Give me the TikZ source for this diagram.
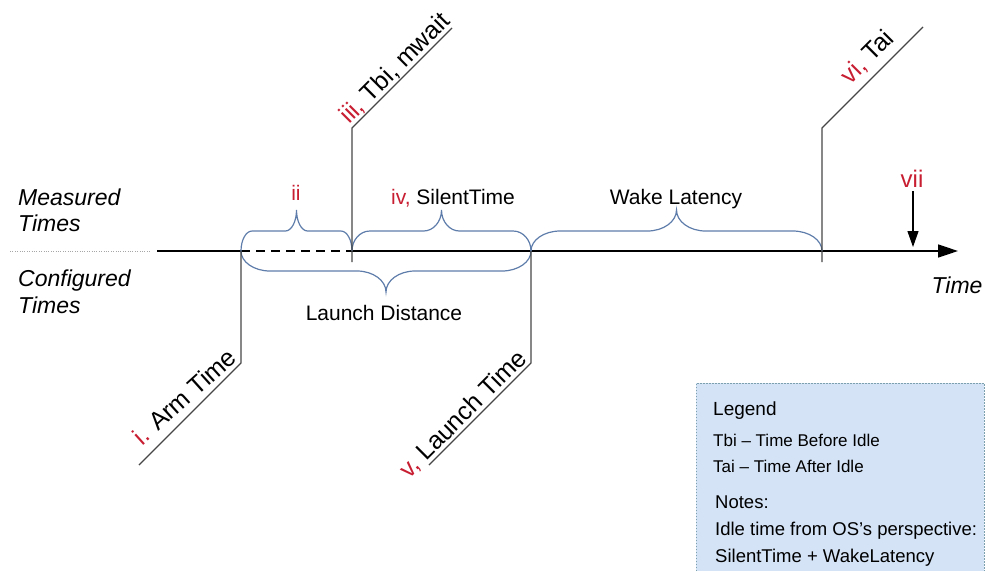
\documentclass[tikz,border=0pt]{standalone}
\usepackage{fontspec}
\setmainfont{Liberation Sans}
\usetikzlibrary{arrows.meta}
\definecolor{redlbl}{RGB}{200,30,50}
\definecolor{bracecol}{RGB}{95,125,170}
\definecolor{tickcol}{RGB}{70,70,70}
\definecolor{legfill}{RGB}{212,227,246}
\definecolor{legborder}{RGB}{125,160,175}
\newcommand\tlbrace[3]{%
  \pgfmathsetmacro\brXa{#1}%
  \pgfmathsetmacro\brXb{#2}%
  \pgfmathsetmacro\brW{0.1*(#2-#1)}%
  \pgfmathsetmacro\brXm{(#1+#2)/2}%
  \pgfmathsetmacro\brYh{251-20*#3}%
  \pgfmathsetmacro\brYt{251-41*#3}%
  \pgfmathsetmacro\brYe{251+0.552*(\brYh-251)}%
  \pgfmathsetmacro\brYc{\brYt+0.552*(\brYh-\brYt)}%
  \draw[bracestyle] (\brXa,251) .. controls (\brXa,\brYe) and ({\brXa+0.448*\brW},\brYh) .. ({\brXa+\brW},\brYh)
    -- ({\brXm-\brW},\brYh) .. controls ({\brXm-0.448*\brW},\brYh) and (\brXm,\brYc) .. (\brXm,\brYt)
    .. controls (\brXm,\brYc) and ({\brXm+0.448*\brW},\brYh) .. ({\brXm+\brW},\brYh)
    -- ({\brXb-\brW},\brYh) .. controls ({\brXb-0.448*\brW},\brYh) and (\brXb,\brYe) .. (\brXb,251);%
}
\begin{document}
\begin{tikzpicture}[x=1pt,y=-1pt,
  lbl/.style={font=\fontsize{21}{25}\selectfont, inner sep=0pt, anchor=base},
  side/.style={font=\fontsize{23}{28}\selectfont\itshape, inner sep=0pt, anchor=base west},
  diagtext/.style={font=\fontsize{25}{30}\selectfont, text depth=0pt, inner xsep=0pt, inner ysep=4pt},
  diag/.style={diagtext, sloped},
  legtitle/.style={font=\fontsize{19}{23}\selectfont, inner sep=0pt, anchor=base west},
  legsmall/.style={font=\fontsize{17}{21}\selectfont, inner sep=0pt, anchor=base west},
  legnote/.style={font=\fontsize{18.5}{22}\selectfont, inner sep=0pt, anchor=base west},
  tickline/.style={draw=tickcol, line width=1.1pt},
  axisline/.style={draw=black, line width=1.6pt},
  bracestyle/.style={draw=bracecol, line width=1.2pt},
  dotline/.style={draw=gray!70, line width=0.9pt, dash pattern=on 1pt off 1.4pt}
]
\useasboundingbox (0,0) rectangle (986,571);

% legend box
\coordinate (legTL) at (696,383);
\coordinate (legBR) at (984,571);
\fill[legfill] (legTL) rectangle (legBR);
\draw[legborder, line width=1pt, dash pattern=on 1.5pt off 1.5pt] (legTL|-legBR) -- (legTL) -- (legBR|-legTL) -- (legBR);

% axis
\coordinate (dot0) at (10,251);
\coordinate (dot1) at (150,251);
\coordinate (ax0) at (157,251);
\coordinate (axEnd) at (958,251);
\coordinate (tA) at (241,251);
\coordinate (tB) at (352,251);
\coordinate (tC) at (531,251);
\coordinate (tD) at (822,251);
\draw[dotline] (dot0) -- (dot1);
\draw[axisline] (ax0) -- (tA);
\draw[axisline, dash pattern=on 9pt off 6pt] (tA) -- (tB);
\draw[axisline, -{Triangle[length=20pt,width=13pt]}] (tB) -- (axEnd);

% braces
\tlbrace{241}{352}{1}
\tlbrace{352}{531}{1}
\tlbrace{531}{822}{1}
\tlbrace{241}{531}{-1}

% tick lines
\coordinate (cA) at (241,363);
\coordinate (eA) at (139,465);
\coordinate (bB) at (352,262);
\coordinate (cB) at (352,128);
\coordinate (eB) at (452,28);
\coordinate (cC) at (531,363);
\coordinate (eC) at (429,465);
\coordinate (bD) at (822,262);
\coordinate (cD) at (822,128);
\coordinate (eD) at (923,27);
\draw[tickline] (tA) -- (cA) -- (eA);
\draw[tickline] (bB) -- (cB) -- (eB);
\draw[tickline] (tC) -- (cC) -- (eC);
\draw[tickline] (bD) -- (cD) -- (eD);

\node[diagtext, rotate=42, anchor=south east] (lA) at (cA) {\textcolor{redlbl}{i.} Arm Time};
\path (cB) -- node[diag, pos=0, anchor=south west] (lB) {\textcolor{redlbl}{iii,} Tbi, mwait} (eB);
\path (eC) -- node[diag, pos=1, anchor=south east] (lC) {\textcolor{redlbl}{v,} Launch Time} (cC);
\path (cD) -- node[diag, pos=0.35, anchor=south west, inner ysep=10pt] (lD) {\textcolor{redlbl}{vi,} Tai} (eD);

% labels
\node[lbl, text=redlbl] (lii) at (296,200) {ii};
\node[lbl] (liv) at (453,204) {\textcolor{redlbl}{iv,} SilentTime};
\node[lbl] (lwake) at (676,204) {Wake Latency};
\node[lbl] (llaunch) at (384,320) {Launch Distance};
\node[lbl, text=redlbl, font=\fontsize{24}{28}\selectfont] (lvii) at (912,187) {vii};
\coordinate (vTip) at (913,247);
\draw[line width=1.2pt, shorten <=4pt, -{Triangle[length=16pt,width=11pt]}] (lvii.south-|vTip) -- (vTip);
\node[side, anchor=base] (ltime) at (957,293) {Time};

\node[side] (m1) at (18,205) {Measured};
\node[side] (m2) at (18,231) {Times};
\node[side] (c1) at (18,286) {Configured};
\node[side] (c2) at (18,313) {Times};

% legend text
\node[legtitle] (lg0) at (713,415) {Legend};
\node[legsmall] (lg1) at (713,446) {Tbi – Time Before Idle};
\node[legsmall] (lg2) at (713,472) {Tai – Time After Idle};
\node[legnote] (n0) at (715,508) {Notes:};
\node[legnote] (n1) at (715,535) {Idle time from OS's perspective:};
\node[legnote] (n2) at (715,562) {SilentTime + WakeLatency};
\end{tikzpicture}
\end{document}
